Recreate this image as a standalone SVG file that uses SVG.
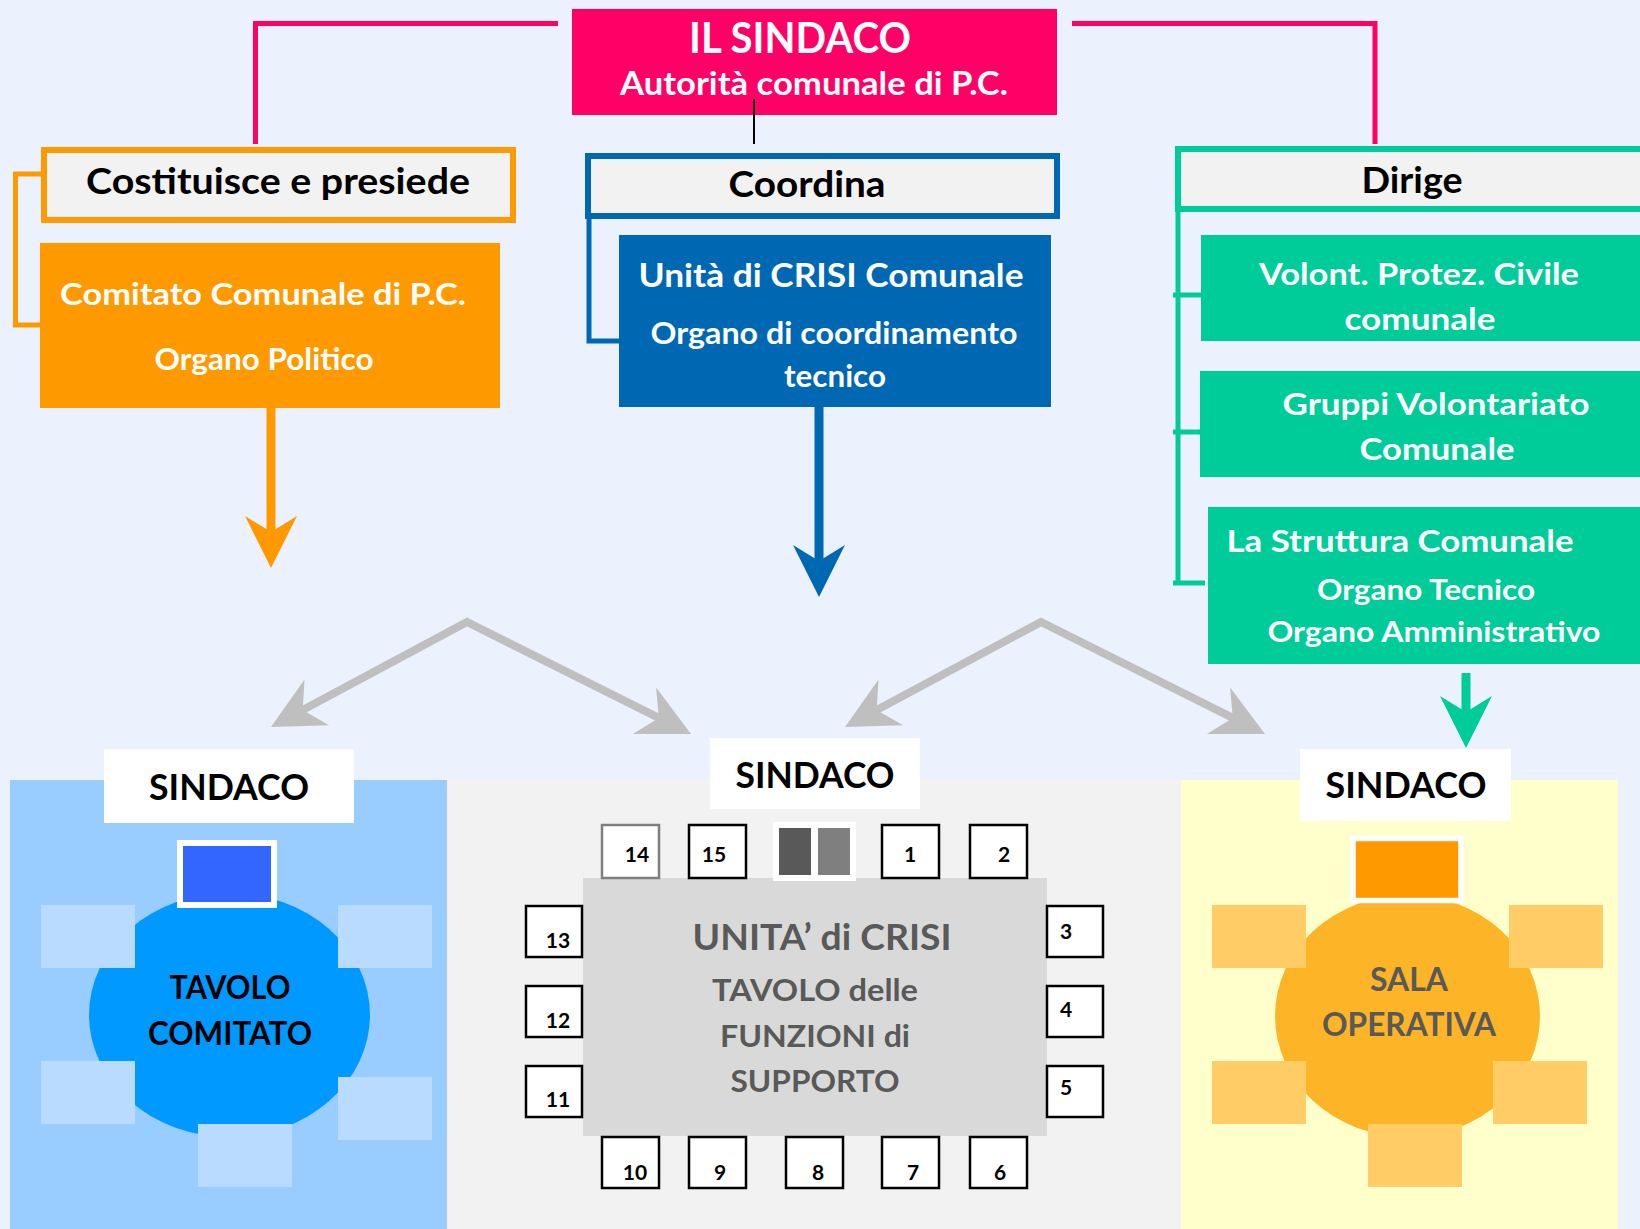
<svg xmlns="http://www.w3.org/2000/svg" width="1640" height="1229" viewBox="0 0 1640 1229">
<style>
.t{font-family:Lato,"Open Sans","Liberation Sans",sans-serif;font-weight:700;text-anchor:middle}
.w{fill:#fff}
.k{fill:#000}
.g{fill:#595959}
.seat{fill:#fff;stroke:#000;stroke-width:2.5}
.num{font-family:Lato,"Open Sans","Liberation Sans",sans-serif;font-weight:700;font-size:21px;text-anchor:middle;fill:#000}
.lb{fill:#B8DBFF}
.lo{fill:#FFCC66}
.head{stroke-width:6}
.conn{fill:none}
</style>
<defs>
<marker id="ahO" viewBox="-20 -30 60 60" refX="0" refY="0" markerWidth="60" markerHeight="60" markerUnits="userSpaceOnUse" orient="auto"><path d="M36 0L-16 -26L0 0L-16 26Z" fill="#FF9900"/></marker>
<marker id="ahB" viewBox="-20 -30 60 60" refX="0" refY="0" markerWidth="60" markerHeight="60" markerUnits="userSpaceOnUse" orient="auto"><path d="M36 0L-16 -26L0 0L-16 26Z" fill="#0068B3"/></marker>
<marker id="ahG" viewBox="-20 -30 60 60" refX="0" refY="0" markerWidth="60" markerHeight="60" markerUnits="userSpaceOnUse" orient="auto"><path d="M36 0L-16 -26L0 0L-16 26Z" fill="#00CC99"/></marker>
<marker id="ahS" viewBox="-20 -30 60 60" refX="0" refY="0" markerWidth="60" markerHeight="60" markerUnits="userSpaceOnUse" orient="auto-start-reverse"><path d="M36 0L-16 -26L0 0L-16 26Z" fill="#BFBFBF"/></marker>
</defs>
<rect x="0" y="0" width="1640" height="1229" fill="#EBF2FE"/>

<!-- bottom panels -->
<g id="panel-comitato">
<rect x="10" y="780" width="437" height="449" fill="#99CCFF"/>
<ellipse cx="229.5" cy="1015" rx="140.5" ry="122" fill="#0099FF"/>
<rect class="lb" x="41" y="905" width="94" height="63"/>
<rect class="lb" x="338" y="905" width="94" height="63"/>
<rect class="lb" x="41" y="1061" width="94" height="63"/>
<rect class="lb" x="338" y="1077" width="94" height="63"/>
<rect class="lb" x="198" y="1124" width="94" height="63"/>
<rect x="180" y="843" width="94" height="62" fill="#3366FF" stroke="#fff" stroke-width="6"/>
<text class="t k" x="230" y="999" font-size="32" textLength="121" lengthAdjust="spacingAndGlyphs">TAVOLO</text>
<text class="t k" x="230" y="1045" font-size="32" textLength="164" lengthAdjust="spacingAndGlyphs">COMITATO</text>
<rect x="104" y="749" width="250" height="74" fill="#fff"/>
<text class="t k" x="229" y="800" font-size="37" textLength="160" lengthAdjust="spacingAndGlyphs">SINDACO</text>
</g>

<g id="panel-unita">
<rect x="447" y="780" width="735" height="449" fill="#F2F2F2"/>
<rect x="583" y="878" width="464" height="258" fill="#D9D9D9"/>
<text class="t g" x="822" y="950" font-size="36" textLength="259" lengthAdjust="spacingAndGlyphs">UNITA’ di CRISI</text>
<text class="t g" x="815" y="1001" font-size="31" textLength="206" lengthAdjust="spacingAndGlyphs">TAVOLO delle</text>
<text class="t g" x="815" y="1047" font-size="31" textLength="190" lengthAdjust="spacingAndGlyphs">FUNZIONI di</text>
<text class="t g" x="815" y="1092" font-size="31" textLength="169" lengthAdjust="spacingAndGlyphs">SUPPORTO</text>
<rect x="773" y="822" width="83" height="59" fill="#fff"/>
<rect x="779" y="828" width="32" height="47" fill="#595959"/>
<rect x="818" y="828" width="32" height="47" fill="#7F7F7F"/>
<rect class="seat" x="602" y="825" width="57" height="53" style="stroke:#7F7F7F"/><text class="num" x="637" y="862">14</text>
<rect class="seat" x="689" y="825" width="57" height="53"/><text class="num" x="714" y="862">15</text>
<rect class="seat" x="882" y="825" width="57" height="53"/><text class="num" x="910" y="862">1</text>
<rect class="seat" x="970" y="825" width="57" height="53"/><text class="num" x="1004" y="862">2</text>
<rect class="seat" x="1047" y="906" width="56" height="51"/><text class="num" x="1066" y="939">3</text>
<rect class="seat" x="1047" y="986" width="56" height="51"/><text class="num" x="1066" y="1017">4</text>
<rect class="seat" x="1047" y="1066" width="56" height="51"/><text class="num" x="1066" y="1095">5</text>
<rect class="seat" x="970" y="1137" width="57" height="51"/><text class="num" x="1000" y="1180">6</text>
<rect class="seat" x="882" y="1137" width="57" height="51"/><text class="num" x="913" y="1180">7</text>
<rect class="seat" x="786" y="1137" width="57" height="51"/><text class="num" x="818" y="1180">8</text>
<rect class="seat" x="689" y="1137" width="57" height="51"/><text class="num" x="720" y="1180">9</text>
<rect class="seat" x="602" y="1137" width="57" height="51"/><text class="num" x="635" y="1180">10</text>
<rect class="seat" x="526" y="1066" width="56" height="51"/><text class="num" x="558" y="1107">11</text>
<rect class="seat" x="526" y="986" width="56" height="51"/><text class="num" x="558" y="1028">12</text>
<rect class="seat" x="526" y="906" width="56" height="51"/><text class="num" x="558" y="948">13</text>
<rect x="710" y="738" width="210" height="71" fill="#fff"/>
<text class="t k" x="815" y="788" font-size="37" textLength="159" lengthAdjust="spacingAndGlyphs">SINDACO</text>
</g>

<g id="panel-sala">
<rect x="1181" y="780" width="437" height="449" fill="#FFFFCC"/>
<ellipse cx="1407.5" cy="1016" rx="132.5" ry="121" fill="#FDB427"/>
<rect class="lo" x="1212" y="905" width="94" height="63"/>
<rect class="lo" x="1509" y="905" width="94" height="63"/>
<rect class="lo" x="1212" y="1061" width="94" height="63"/>
<rect class="lo" x="1493" y="1061" width="94" height="63"/>
<rect class="lo" x="1368" y="1124" width="94" height="63"/>
<rect x="1353" y="838.5" width="108" height="62" fill="#FF9900" stroke="#fff" stroke-width="5.5"/>
<text class="t g" x="1409" y="991" font-size="32" textLength="78" lengthAdjust="spacingAndGlyphs">SALA</text>
<text class="t g" x="1409" y="1036" font-size="32" textLength="174" lengthAdjust="spacingAndGlyphs">OPERATIVA</text>
<rect x="1300" y="749" width="211" height="72" fill="#fff"/>
<text class="t k" x="1406" y="798" font-size="37" textLength="161" lengthAdjust="spacingAndGlyphs">SINDACO</text>
</g>

<!-- connectors -->
<g id="connectors" class="conn">
<path d="M558 23.5H255.5V144" stroke="#FF0066" stroke-width="5"/>
<path d="M1072 23.5H1375V144" stroke="#FF0066" stroke-width="5"/>
<path d="M754 99V144" stroke="#000" stroke-width="2"/>
<path d="M44 174H15.5V325H42" stroke="#FF9900" stroke-width="5"/>
<path d="M589 216V341H620" stroke="#0068B3" stroke-width="5"/>
<path d="M1178 209V583H1205M1173 583H1178M1173 295H1201M1173 432H1200" stroke="#00CC99" stroke-width="5"/>
<path d="M271 408V532" stroke="#FF9900" stroke-width="9" marker-end="url(#ahO)"/>
<path d="M819 407V561" stroke="#0068B3" stroke-width="9" marker-end="url(#ahB)"/>
<path d="M1466 673V712" stroke="#00CC99" stroke-width="9" marker-end="url(#ahG)"/>
<path d="M302.7 710L467 622L658.8 717.9" stroke="#BFBFBF" stroke-width="8" marker-start="url(#ahS)" marker-end="url(#ahS)"/>
<path d="M876.7 710L1041 622L1232.8 717.9" stroke="#BFBFBF" stroke-width="8" marker-start="url(#ahS)" marker-end="url(#ahS)"/>
</g>

<!-- top nodes -->
<g id="sindaco">
<rect x="572" y="9" width="485" height="106" fill="#FF0066"/>
<text class="t w" x="800" y="53" font-size="42" textLength="222" lengthAdjust="spacingAndGlyphs">IL SINDACO</text>
<text class="t w" x="814" y="95" font-size="32" textLength="388" lengthAdjust="spacingAndGlyphs">Autorità comunale di P.C.</text>
</g>
<path d="M754 99V115" stroke="#000" stroke-width="2"/>

<g id="costituisce">
<rect class="head" x="44" y="150" width="469" height="70" fill="#F2F2F2" stroke="#FF9900"/>
<text class="t k" x="278" y="194" font-size="37" textLength="384" lengthAdjust="spacingAndGlyphs">Costituisce e presiede</text>
</g>
<g id="comitato">
<rect x="40" y="243" width="460" height="165" fill="#FF9900"/>
<text class="t w" x="263" y="305" font-size="31" textLength="406" lengthAdjust="spacingAndGlyphs">Comitato Comunale di P.C.</text>
<text class="t w" x="264" y="370" font-size="30" textLength="219" lengthAdjust="spacingAndGlyphs">Organo Politico</text>
</g>

<g id="coordina">
<rect class="head" x="588" y="156" width="469" height="60" fill="#F2F2F2" stroke="#0068B3"/>
<text class="t k" x="807" y="197" font-size="37" textLength="157" lengthAdjust="spacingAndGlyphs">Coordina</text>
</g>
<g id="unita-crisi">
<rect x="619" y="235" width="432" height="172" fill="#0068B3"/>
<text class="t w" x="831" y="287" font-size="32" textLength="385" lengthAdjust="spacingAndGlyphs">Unità di CRISI Comunale</text>
<text class="t w" x="834" y="344" font-size="30" textLength="367" lengthAdjust="spacingAndGlyphs">Organo di coordinamento</text>
<text class="t w" x="835" y="387" font-size="30" textLength="102" lengthAdjust="spacingAndGlyphs">tecnico</text>
</g>

<g id="dirige">
<rect class="head" x="1178" y="149" width="480" height="60" fill="#F2F2F2" stroke="#00CC99"/>
<text class="t k" x="1412" y="193" font-size="36" textLength="101" lengthAdjust="spacingAndGlyphs">Dirige</text>
</g>
<g id="volontari">
<rect x="1201" y="235" width="439" height="106" fill="#00CC99"/>
<text class="t w" x="1419" y="285" font-size="30" textLength="320" lengthAdjust="spacingAndGlyphs">Volont. Protez. Civile</text>
<text class="t w" x="1420" y="330" font-size="30" textLength="151" lengthAdjust="spacingAndGlyphs">comunale</text>
</g>
<g id="gruppi">
<rect x="1200" y="371" width="440" height="106" fill="#00CC99"/>
<text class="t w" x="1436" y="415" font-size="30" textLength="307" lengthAdjust="spacingAndGlyphs">Gruppi Volontariato</text>
<text class="t w" x="1437" y="460" font-size="30" textLength="155" lengthAdjust="spacingAndGlyphs">Comunale</text>
</g>
<g id="struttura">
<rect x="1208" y="507" width="432" height="157" fill="#00CC99"/>
<text class="t w" x="1400" y="552" font-size="31" textLength="347" lengthAdjust="spacingAndGlyphs">La Struttura Comunale</text>
<text class="t w" x="1426" y="600" font-size="29" textLength="218" lengthAdjust="spacingAndGlyphs">Organo Tecnico</text>
<text class="t w" x="1434" y="642" font-size="29" textLength="333" lengthAdjust="spacingAndGlyphs">Organo Amministrativo</text>
</g>
</svg>
